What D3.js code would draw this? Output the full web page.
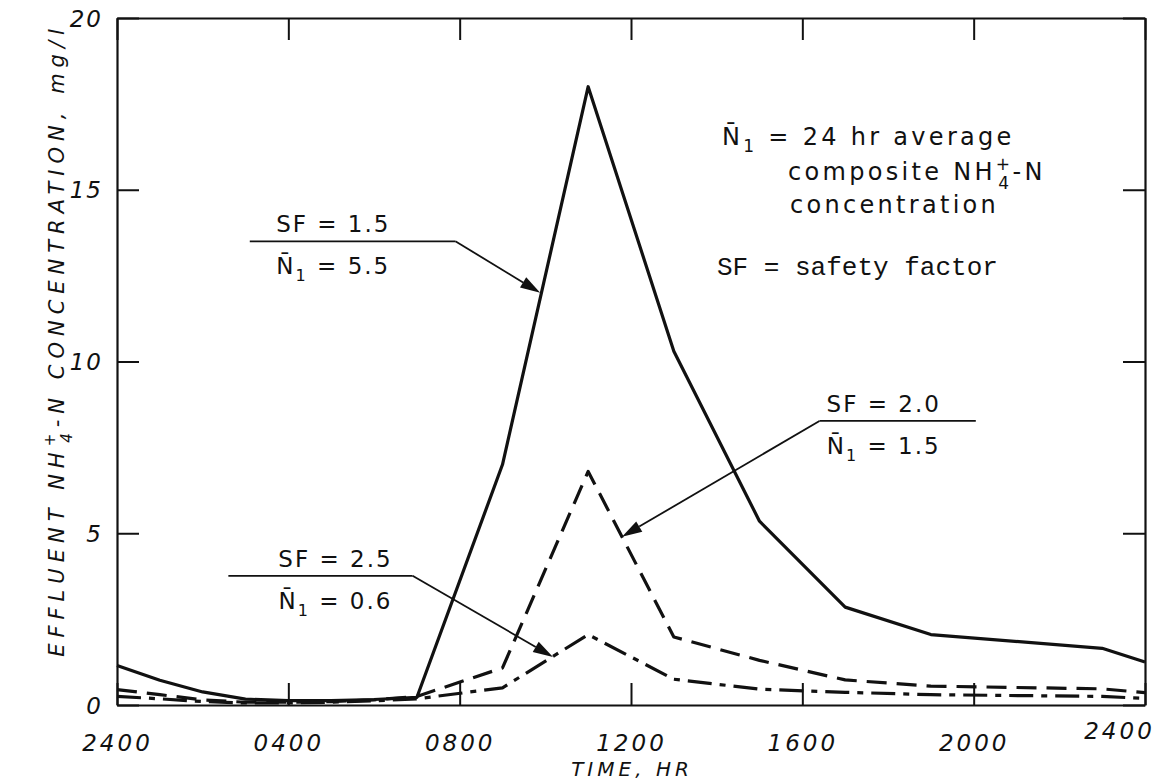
<!DOCTYPE html>
<html>
<head>
<meta charset="utf-8">
<script src="https://cdn.jsdelivr.net/npm/d3@7"></script>
<style>
  html, body { margin: 0; padding: 0; background: #fff; }
  svg { display: block; }
  text { font-family: "DejaVu Sans", sans-serif; fill: #111; }
</style>
</head>
<body>
<svg id="chart" width="1167" height="782"></svg>
<script>
// Hour of day (0 = 2400 of the previous day) at which each curve bends
const hours = [0, 1, 2, 3, 4, 5, 6, 7, 9, 11, 13, 15, 17, 19, 23, 24];

// Effluent NH4+-N concentration, mg/l, for each safety factor
const sf15 = [1.15, 0.72, 0.38, 0.17, 0.13, 0.13, 0.16, 0.22, 7.0, 18.0, 10.3, 5.35, 2.85, 2.05, 1.65, 1.25];
const sf20 = [0.45, 0.30, 0.15, 0.08, 0.08, 0.10, 0.15, 0.25, 1.08, 6.8, 1.98, 1.30, 0.73, 0.55, 0.47, 0.36];
const sf25 = [0.25, 0.18, 0.10, 0.06, 0.06, 0.08, 0.12, 0.18, 0.50, 2.05, 0.75, 0.46, 0.37, 0.30, 0.25, 0.19];

const xTickHours = [0, 4, 8, 12, 16, 20, 24];
const xTickLabels = ["2400", "0400", "0800", "1200", "1600", "2000", "2400"];
const yTicks = [0, 5, 10, 15, 20];

// Callouts: safety factor, mean concentration, rule span (hours), rule level (mg/l),
// label centre (hour) and arrow tip (hour, mg/l)
const calloutSF = ["1.5", "2.0", "2.5"];
const calloutN = ["5.5", "1.5", "0.6"];
const ruleFrom = [3.1, 16.4, 2.6];
const ruleTo = [7.9, 20.05, 6.9];
const ruleLevel = [13.5, 8.27, 3.76];
const labelAt = [5.05, 17.9, 5.1];
const tipHour = [9.88, 11.79, 10.18];
const tipValue = [12.0, 4.9, 1.4];
const bendAtLeft = [false, true, false];

const svg = d3.select("#chart");
const x = d3.scaleLinear().domain([0, 24]).range([117, 1145]);
const y = d3.scaleLinear().domain([0, 20]).range([705, 18]);

// ---- frame and inward ticks on all four sides ----
const tickLen = 22;
const axisStyle = g => {
  g.select(".domain").attr("stroke", "#111").attr("stroke-width", 2.2);
  g.selectAll(".tick line").attr("stroke", "#111").attr("stroke-width", 2);
};

const gBottom = svg.append("g").attr("transform", `translate(0,${y(0)})`)
  .call(d3.axisBottom(x).tickValues(xTickHours).tickSize(-tickLen).tickSizeOuter(0)
    .tickFormat((d, i) => xTickLabels[i]))
  .call(axisStyle);
gBottom.selectAll(".tick text")
  .attr("y", 38).attr("dy", "0.35em")
  .style("font-size", "23px").style("font-style", "italic").style("letter-spacing", "3px")
  .attr("fill", "#111");
// final 2400 sits a little higher and to the left of the corner
gBottom.selectAll(".tick text").filter((d, i) => i === xTickHours.length - 1)
  .attr("dx", -26).attr("y", 26);

svg.append("g").attr("transform", `translate(0,${y(20)})`)
  .call(d3.axisTop(x).tickValues(xTickHours).tickSize(-tickLen).tickSizeOuter(0).tickFormat(""))
  .call(axisStyle);

const gLeft = svg.append("g").attr("transform", `translate(${x(0)},0)`)
  .call(d3.axisLeft(y).tickValues(yTicks).tickSize(-tickLen).tickSizeOuter(0))
  .call(axisStyle);
gLeft.selectAll(".tick text")
  .attr("x", -14).attr("dy", "0.35em")
  .style("font-size", "23px").style("font-style", "italic").style("letter-spacing", "2px")
  .attr("fill", "#111");

svg.append("g").attr("transform", `translate(${x(24)},0)`)
  .call(d3.axisRight(y).tickValues(yTicks).tickSize(-tickLen).tickSizeOuter(0).tickFormat(""))
  .call(axisStyle);

// ---- axis titles ----
svg.append("text")
  .attr("x", 632).attr("y", 776)
  .attr("text-anchor", "middle")
  .style("font-size", "20px").style("font-style", "italic").style("letter-spacing", "4px")
  .text("TIME, HR");

const yTitle = svg.append("text")
  .attr("transform", "translate(64,340) rotate(-90)")
  .attr("text-anchor", "middle")
  .style("font-size", "21px").style("font-style", "italic").style("letter-spacing", "6px");
yTitle.append("tspan").text("EFFLUENT NH");
yTitle.append("tspan").attr("dy", -9).style("font-size", "15px").text("+");
yTitle.append("tspan").attr("dx", -15).attr("dy", 17).style("font-size", "15px").text("4");
yTitle.append("tspan").attr("dy", -8).text("-N CONCENTRATION, mg/l");

// ---- curves ----
const line = d3.line().x(d => x(d[0])).y(d => y(d[1]));
const series = [
  { values: sf15, dash: null },
  { values: sf20, dash: "20,10" },
  { values: sf25, dash: "24,8,6,8" }
];
svg.append("g").selectAll("path")
  .data(series)
  .join("path")
  .attr("d", s => line(hours.map((h, i) => [h, s.values[i]])))
  .attr("fill", "none")
  .attr("stroke", "#111")
  .attr("stroke-width", 3.2)
  .attr("stroke-linejoin", "round")
  .attr("stroke-dasharray", s => s.dash);

// ---- callouts ----
const nBar = (sel, value) => {
  sel.append("tspan").text("N\u0304");
  sel.append("tspan").attr("dy", 7).style("font-size", "16px").text("1");
  sel.append("tspan").attr("dy", -7).text(` = ${value}`);
};

const callouts = svg.append("g");
calloutSF.forEach((sf, i) => {
  const ry = y(ruleLevel[i]);
  const bendX = bendAtLeft[i] ? x(ruleFrom[i]) : x(ruleTo[i]);
  callouts.append("line")
    .attr("x1", x(ruleFrom[i])).attr("x2", x(ruleTo[i]))
    .attr("y1", ry).attr("y2", ry)
    .attr("stroke", "#111").attr("stroke-width", 1.8);
  const tx = x(tipHour[i]), ty = y(tipValue[i]);
  const ang = Math.atan2(ty - ry, tx - bendX);
  const len = 20, half = 6;
  const bx = tx - len * Math.cos(ang), by = ty - len * Math.sin(ang);
  callouts.append("line")
    .attr("x1", bendX).attr("y1", ry).attr("x2", bx).attr("y2", by)
    .attr("stroke", "#111").attr("stroke-width", 1.8);
  callouts.append("path")
    .attr("d", `M${tx},${ty}L${bx + half * Math.sin(ang)},${by - half * Math.cos(ang)}L${bx - half * Math.sin(ang)},${by + half * Math.cos(ang)}Z`)
    .attr("fill", "#111");
  callouts.append("text")
    .attr("x", x(labelAt[i])).attr("y", ry - 9)
    .attr("text-anchor", "middle")
    .style("font-size", "23px").style("letter-spacing", "2px")
    .text(`SF = ${sf}`);
  callouts.append("text")
    .attr("x", x(labelAt[i])).attr("y", ry + 33)
    .attr("text-anchor", "middle")
    .style("font-size", "23px").style("letter-spacing", "2px")
    .call(nBar, calloutN[i]);
});

// ---- key ----
const key = svg.append("g").style("font-size", "24px").style("letter-spacing", "3.3px");
const k1 = key.append("text").attr("x", 722).attr("y", 145);
k1.append("tspan").text("N\u0304");
k1.append("tspan").attr("dy", 7).style("font-size", "17px").text("1");
k1.append("tspan").attr("dy", -7).text(" = 24 hr  average");

const k2 = key.append("text").attr("x", 788).attr("y", 180);
k2.append("tspan").text("composite NH");
k2.append("tspan").attr("dy", -10).style("font-size", "17px").text("+");
k2.append("tspan").attr("dx", -15).attr("dy", 19).style("font-size", "17px").text("4");
k2.append("tspan").attr("dy", -9).text("-N");

key.append("text").attr("x", 790).attr("y", 213).text("concentration");

svg.append("text")
  .attr("x", 717).attr("y", 275)
  .style("font-family", "'Liberation Mono', 'DejaVu Sans Mono', monospace")
  .style("font-size", "26px")
  .text("SF = safety factor");
</script>
</body>
</html>
